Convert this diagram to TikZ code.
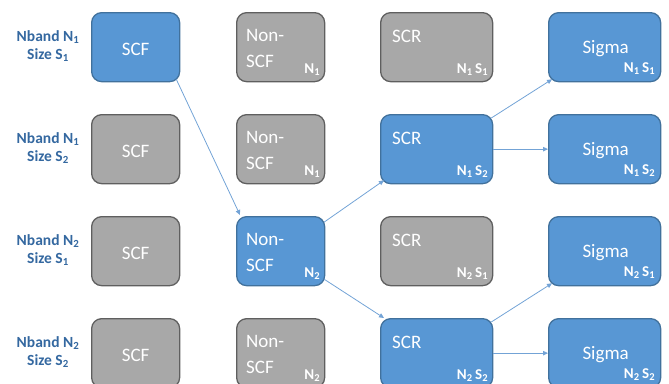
\documentclass[tikz,border=0pt]{standalone}
\usepackage{fontspec}
\setmainfont{Carlito}
\usetikzlibrary{calc,arrows.meta}
\definecolor{boxblue}{RGB}{88,151,212}
\definecolor{bordblue}{RGB}{65,113,156}
\definecolor{boxgray}{RGB}{168,168,168}
\definecolor{bordgray}{RGB}{95,95,95}
\definecolor{arrblue}{RGB}{115,163,214}
\definecolor{lblue}{RGB}{52,104,160}
\tikzset{
  box/.style={rounded corners=10pt, minimum height=69pt, line width=1.3pt, anchor=north west, inner sep=0pt},
  bluebox/.style={box, fill=boxblue, draw=bordblue},
  graybox/.style={box, fill=boxgray, draw=bordgray},
  narrow/.style={minimum width=88pt},
  wide/.style={minimum width=112pt},
  big/.style={text=white, font=\fontsize{19}{19}\selectfont, inner sep=0pt},
  small/.style={text=white, font=\bfseries\fontsize{15}{15}\selectfont, inner sep=0pt, anchor=base east},
  side/.style={text=lblue, font=\bfseries\fontsize{15.5}{16}\selectfont, inner sep=0pt, anchor=base},
  conn/.style={draw=arrblue, line width=0.8pt, -{Triangle[length=5pt,width=4.5pt]}}
}
\newcommand{\NS}[2]{N\textsubscript{#1}\,S\textsubscript{#2}}
\begin{document}
\begin{tikzpicture}[x=1pt,y=-1pt]
\useasboundingbox (0,0) rectangle (669,383);
\clip (0,0) rectangle (669,383);
% left labels
\node[side] (l1a) at (48,41) {Nband N\textsubscript{1}};
\node[side] (l1b) at (48,59) {Size S\textsubscript{1}};
\node[side] (l2a) at (48,143) {Nband N\textsubscript{1}};
\node[side] (l2b) at (48,161) {Size S\textsubscript{2}};
\node[side] (l3a) at (48,245) {Nband N\textsubscript{2}};
\node[side] (l3b) at (48,263) {Size S\textsubscript{1}};
\node[side] (l4a) at (48,347) {Nband N\textsubscript{2}};
\node[side] (l4b) at (48,365) {Size S\textsubscript{2}};
% SCF column
\node[bluebox,narrow] (scf1) at (91,12) {};
\node[graybox,narrow] (scf2) at (91,114) {};
\node[graybox,narrow] (scf3) at (91,216) {};
\node[graybox,narrow] (scf4) at (91,318) {};
\foreach \i in {1,...,4}{
  \node[big,anchor=base] (scft\i) at ($(scf\i.north)+(0,43)$) {SCF};
}
% Non-SCF column
\node[graybox,narrow] (ns1) at (236,12) {};
\node[graybox,narrow] (ns2) at (236,114) {};
\node[bluebox,narrow] (ns3) at (236,216) {};
\node[graybox,narrow] (ns4) at (236,318) {};
\foreach \i/\n in {1/1,2/1,3/2,4/2}{
  \node[big,anchor=base west] (nsa\i) at ($(ns\i.north west)+(10,29)$) {Non-};
  \node[big,anchor=base west] (nsb\i) at ($(ns\i.north west)+(10,55)$) {SCF};
  \node[small] (nss\i) at ($(ns\i.north east)+(-5,61)$) {N\textsubscript{\n}};
}
% SCR column
\node[graybox,wide] (scr1) at (380,12) {};
\node[bluebox,wide] (scr2) at (380,114) {};
\node[graybox,wide] (scr3) at (380,216) {};
\node[bluebox,wide] (scr4) at (380,318) {};
% Sigma column
\node[bluebox,wide] (sg1) at (548,12) {};
\node[bluebox,wide] (sg2) at (548,114) {};
\node[bluebox,wide] (sg3) at (548,216) {};
\node[bluebox,wide] (sg4) at (548,318) {};
\foreach \i/\n/\s in {1/1/1,2/1/2,3/2/1,4/2/2}{
  \node[big,anchor=base west] (scrt\i) at ($(scr\i.north west)+(12,30)$) {SCR};
  \node[small] (scrs\i) at ($(scr\i.north east)+(-5,61)$) {\NS{\n}{\s}};
  \node[big,anchor=base] (sgt\i) at ($(sg\i.north)+(1,41)$) {Sigma};
  \node[small] (sgs\i) at ($(sg\i.north east)+(-6,60)$) {\NS{\n}{\s}};
}
% connectors
\draw[conn] ($(scf1.south east)+(-4,-3)$) -- ($(ns3.north west)+(4,-1)$);
\draw[conn] ($(ns3.north east)+(-1,6)$) -- ($(scr2.south west)+(4,-4)$);
\draw[conn] ($(ns3.south east)+(-1,-7)$) -- ($(scr4.north west)+(4,0)$);
\draw[conn] ($(scr2.north east)+(-2,4)$) -- ($(sg1.south west)+(4,-3)$);
\draw[conn] (scr2.east) -- (sg2.west);
\draw[conn] ($(scr4.north east)+(-2,4)$) -- ($(sg3.south west)+(4,-3)$);
\draw[conn] (scr4.east) -- (sg4.west);
\end{tikzpicture}
\end{document}
